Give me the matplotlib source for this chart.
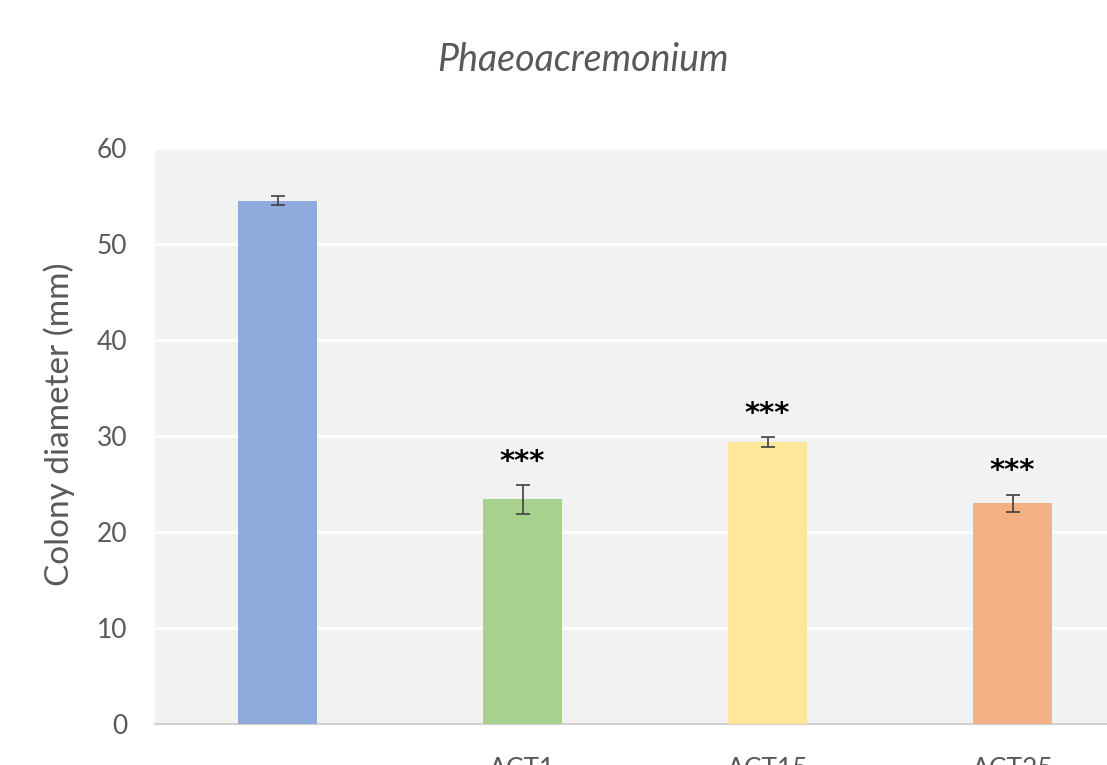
import numpy as np
import matplotlib.pyplot as plt

labels = ["", "ACT1", "ACT15", "ACT25"]
means = [54.5, 23.4, 29.4, 23.0]
errs = [0.45, 1.5, 0.5, 0.9]
stars = ["", "***", "***", "***"]
colors = ["#8faadc", "#a9d18e", "#ffe699", "#f4b183"]

plt.rcParams['font.family'] = ['Lato', 'DejaVu Sans']

fig = plt.figure(figsize=(11.07, 7.65), dpi=100)
ax = fig.add_axes([155/1107, 41/765, 980/1107, 576/765])
ax.set_facecolor("#f2f2f2")

x = np.arange(len(means))
ax.bar(x, means, width=0.32, color=colors, zorder=3)
ax.errorbar(x, means, yerr=errs, fmt="none", ecolor="#404040", elinewidth=1.2,
            capsize=5, capthick=1.2, zorder=4)

# significance marks above the error bars
for xi, m, e, s in zip(x, means, errs, stars):
    if s:
        ax.annotate(s, (xi, m + e), xytext=(0, 11), textcoords="offset points",
                    ha="center", va="baseline", fontsize=21, color="black",
                    fontweight="bold", family="DejaVu Sans")

ax.set_xlim(-0.5, 3.5)
ax.set_ylim(0, 60)
ax.set_yticks(range(0, 61, 10))
ax.set_xticks(x)
ax.set_xticklabels(labels)
ax.grid(axis="y", color="white", linewidth=2, zorder=0)
for sp in ["top", "right", "left"]:
    ax.spines[sp].set_visible(False)
ax.spines["bottom"].set_color("#d0d0d0")
ax.spines["bottom"].set_linewidth(1.5)
ax.tick_params(length=0, labelsize=19, labelcolor="#595959")
ax.tick_params(axis="x", pad=24)
ax.tick_params(axis="y", pad=20)
ax.set_ylabel("Colony diameter (mm)", fontsize=24, color="#595959")
ax.yaxis.set_label_coords(-0.082, 0.52)
fig.text(0.527, 0.922, "Phaeoacremonium", ha="center", va="center",
         fontsize=27, style="italic", color="#595959")

fig.savefig("out.png", dpi=100)
